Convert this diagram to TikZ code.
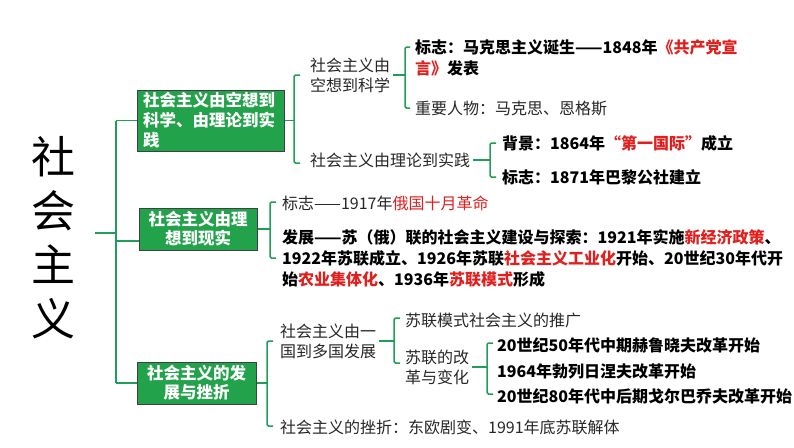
\documentclass[tikz,border=0pt]{standalone}
\usepackage{fontspec}
\setmainfont{Noto Sans CJK SC}
\usetikzlibrary{calc}
\definecolor{lg}{HTML}{1E9E58}
\definecolor{bg}{HTML}{22A24A}
\definecolor{rd}{HTML}{E0201E}
\newcommand\hl[1]{\textcolor{rd}{#1}}
\begin{document}
\begin{tikzpicture}[x=1pt,y=-1pt,
 conn/.style={draw=lg, line width=1.5pt},
 brk/.style={draw=lg, line width=1.5pt, rounded corners=1.5pt},
 gbox/.style={fill=bg, draw=black!75, line width=1pt, text=white, inner ysep=0pt},
 lt/.style={anchor=west, inner sep=0pt, font=\fontsize{16}{20}\selectfont, align=left, text=black!85},
 bt/.style={anchor=west, inner sep=0pt, font=\fontsize{16}{21}\selectfont\bfseries, align=left},
]
\useasboundingbox (0,0) rectangle (794,447);

% big title
\node[inner sep=0pt, align=center, font=\fontsize{44}{54}\selectfont] (big) at (53,238) {社\\会\\主\\义};
\coordinate (bigout) at (95,233);
\coordinate (j0) at (116,233);
\draw[conn] (bigout) -- (j0);

% boxes
\node[gbox, inner xsep=6pt, text width=135pt, minimum height=61pt, align=left,
      font=\fontsize{16.5}{20}\selectfont\bfseries] (box1) at (210.5,120.5)
      {社会主义由空想到\\科学、由理论到实\\践};
\node[gbox, inner xsep=0pt, minimum width=118pt, minimum height=42pt, align=center,
      font=\fontsize{16.5}{19}\selectfont\bfseries] (box2) at (198,229)
      {社会主义由理\\想到现实};
\node[gbox, inner xsep=0pt, minimum width=119pt, minimum height=42pt, align=center,
      font=\fontsize{16.5}{19}\selectfont\bfseries] (box3) at (196.5,383)
      {社会主义的发\\展与挫折};

% trunk
\coordinate (tt) at (116,120.5);
\coordinate (tm) at (116,241);
\coordinate (tb) at (116,383);
\draw[conn] (tt) -- (tb);
\draw[conn] (tt) -- (box1.west);
\draw[conn] (tm) -- (tm -| box2.west);
\draw[conn] (tb) -- (box3.west);

% ---- branch 1
\node[lt] (t1a) at (310,75) {社会主义由\\空想到科学};
\node[lt] (t1b) at (310,160) {社会主义由理论到实践};
\coordinate (s1) at (294,120.5);
\draw[conn] (box1.east) -- (s1);
\draw[brk] (300,75) -- (294,75) -- (294,163) -- (300,163);

\node[bt] (t1a1) at (415,58) {标志：马克思主义诞生——1848年\hl{《共产党宣}\\\hl{言》}发表};
\node[lt] (t1a2) at (415,109) {重要人物：马克思、恩格斯};
\coordinate (s1a) at (405,75);
\draw[conn] ($(t1a.east)+(3,0)$) -- (s1a);
\draw[brk] (410,47) -- (405,47) -- (405,108) -- (410,108);

\node[bt] (t1b1) at (502,143) {背景：1864年\hl{“第一国际”}成立};
\node[bt] (t1b2) at (502,177) {标志：1871年巴黎公社建立};
\coordinate (s1b) at (490,160);
\draw[conn] ($(t1b.east)+(3,0)$) -- (s1b);
\draw[brk] (496,143) -- (490,143) -- (490,177) -- (496,177);

% ---- branch 2
\node[lt] (t2a) at (282,203) {标志——1917年\hl{俄国十月革命}};
\node[bt] (t2b) at (282,258) {发展——苏（俄）联的社会主义建设与探索：1921年实施\hl{新经济政策}、\\1922年苏联成立、1926年苏联\hl{社会主义工业化}开始、20世纪30年代开\\始\hl{农业集体化}、1936年\hl{苏联模式}形成};
\coordinate (s2) at (270,229);
\draw[conn] (box2.east) -- (s2);
\draw[brk] (276,202) -- (270,202) -- (270,258) -- (276,258);

% ---- branch 3
\node[lt] (t3a) at (280,341) {社会主义由一\\国到多国发展};
\node[lt] (t3b) at (280,427) {社会主义的挫折：东欧剧变、1991年底苏联解体};
\coordinate (s3) at (267,383);
\draw[conn] (box3.east) -- (s3);
\draw[brk] (273,341) -- (267,341) -- (267,426) -- (273,426);

\node[lt] (t3c) at (405,320) {苏联模式社会主义的推广};
\node[lt] (t3d) at (405,367) {苏联的改\\革与变化};
\coordinate (s3a) at (394,341);
\draw[conn] ($(t3a.east)+(3,0)$) -- (s3a);
\draw[brk] (400,318) -- (394,318) -- (394,363) -- (400,363);

\node[bt] (t3e) at (497,345) {20世纪50年代中期赫鲁晓夫改革开始};
\node[bt] (t3f) at (497,371) {1964年勃列日涅夫改革开始};
\node[bt] (t3g) at (497,396) {20世纪80年代中后期戈尔巴乔夫改革开始};
\coordinate (s3b) at (487,367);
\draw[conn] ($(t3d.east)+(3,0)$) -- (s3b);
\draw[brk] (493,343) -- (487,343) -- (487,394) -- (493,394);
\end{tikzpicture}
\end{document}
